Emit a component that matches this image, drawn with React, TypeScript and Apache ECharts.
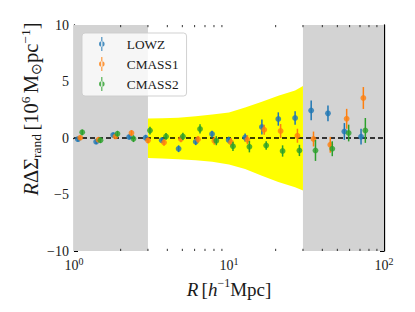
import React, { useEffect, useRef } from "react";
import * as echarts from "echarts";

// Radial bins (h^-1 Mpc)
const R = [1.06, 1.39, 1.79, 2.27, 2.9, 3.68, 4.73, 6.1, 7.77, 9.95, 12.7, 16.3, 20.8, 26.7, 33.9, 43.5, 55.5, 71.1];
const lowz = [-0.1, -0.33, 0.27, 0.09, 0.03, -0.2, -0.95, -0.33, 0.35, -0.18, 0.05, 0.97, 1.68, 1.77, 2.44, 2.18, 0.58, 0.12];
const lowzErr = [0.2, 0.2, 0.2, 0.2, 0.25, 0.25, 0.3, 0.3, 0.3, 0.3, 0.35, 0.66, 0.59, 0.59, 0.88, 0.7, 0.74, 0.7];
const cmass1 = [0.03, -0.15, 0.14, 0.44, -0.21, -0.39, -0.08, -0.12, -0.24, -0.37, -0.15, 0.73, 0.62, 0.2, -0.09, -0.6, 1.7, 3.54];
const cmass1Err = [0.2, 0.2, 0.2, 0.25, 0.25, 0.3, 0.3, 0.3, 0.35, 0.37, 0.4, 0.44, 0.62, 0.62, 0.66, 0.7, 0.88, 0.97];
const cmass2 = [0.5, -0.2, 0.38, -0.06, 0.66, 0.14, 0.14, 0.8, -0.24, -0.74, -0.77, -0.66, -1.15, -1.1, -1.1, -0.95, 0.44, 0.67];
const cmass2Err = [0.25, 0.25, 0.25, 0.3, 0.34, 0.3, 0.32, 0.41, 0.4, 0.4, 0.5, 0.37, 0.5, 0.5, 0.93, 0.66, 0.74, 1.1];

// Yellow uncertainty band
const bandR = [3, 3.7, 4.7, 6.1, 7.8, 10, 12.7, 16.3, 20.8, 26.7, 30];
const bandUpper = [1.72, 1.75, 1.8, 1.92, 2.08, 2.25, 2.7, 3.2, 3.75, 4.2, 4.6];
const bandLower = [-1.77, -1.82, -1.87, -1.97, -2.1, -2.35, -2.75, -3.35, -3.9, -4.35, -4.65];

// Excluded (gray) ranges
const excluded = [[1, 3], [30, 100]];

// Axis ticks
const yTicks = [-10, -5, 0, 5, 10];
const xMinorTicks = [2, 3, 4, 5, 6, 7, 8, 9, 20, 30, 40, 50, 60, 70, 80, 90];

const SERIES = [
  { name: "LOWZ", y: lowz, e: lowzErr, color: "#1f77b4", shift: 1.0 },
  { name: "CMASS1", y: cmass1, e: cmass1Err, color: "#ff7f0e", shift: 1.035 },
  { name: "CMASS2", y: cmass2, e: cmass2Err, color: "#2ca02c", shift: 1.066 },
];

const FONT = "'Liberation Serif', 'Times New Roman', serif";

export default function App() {
  const ref = useRef<HTMLDivElement>(null);
  useEffect(() => {
    if (!ref.current) return;
    const chart = echarts.init(ref.current, null, { renderer: "svg" });

    const series: any[] = [];

    series.push({
      type: "custom",
      name: "band",
      z: 2,
      silent: true,
      data: [[3, 0]],
      encode: { x: 0, y: 1 },
      renderItem: (params: any, api: any) => {
        const pts: number[][] = [];
        for (let i = 0; i < bandR.length; i++) pts.push(api.coord([bandR[i], bandUpper[i]]));
        for (let i = bandR.length - 1; i >= 0; i--) pts.push(api.coord([bandR[i], bandLower[i]]));
        return { type: "polygon", shape: { points: pts }, style: { fill: "#ffff00" } };
      },
    });

    series.push({
      type: "line",
      name: "zero",
      z: 3,
      silent: true,
      symbol: "none",
      data: [[1, 0], [100, 0]],
      lineStyle: { color: "#000", width: 1.6, type: [5, 3] },
      markArea: {
        silent: true,
        itemStyle: { color: "#d3d3d3", opacity: 1 },
        data: excluded.map((r) => [{ xAxis: r[0] }, { xAxis: r[1] }]),
      },
    });

    series.push({
      type: "custom",
      name: "minorticks",
      z: 10,
      silent: true,
      data: xMinorTicks.map((v) => [v, 0]),
      encode: { x: 0, y: 1 },
      renderItem: (params: any, api: any) => {
        const v = api.value(0);
        const b = api.coord([v, -10]);
        const t = api.coord([v, 10]);
        return {
          type: "group",
          children: [
            { type: "line", shape: { x1: b[0], y1: b[1], x2: b[0], y2: b[1] - 2.2 }, style: { stroke: "#000", lineWidth: 0.8 } },
            { type: "line", shape: { x1: t[0], y1: t[1], x2: t[0], y2: t[1] + 2.2 }, style: { stroke: "#000", lineWidth: 0.8 } },
          ],
        };
      },
    });

    SERIES.forEach((s, si) => {
      series.push({
        type: "custom",
        name: s.name + "-err",
        z: 5 + si * 2,
        silent: true,
        data: R.map((r, i) => [r * s.shift, s.y[i], s.e[i]]),
        encode: { x: 0, y: 1 },
        renderItem: (params: any, api: any) => {
          const x = api.value(0);
          const y = api.value(1);
          const e = api.value(2);
          const p1 = api.coord([x, y - e]);
          const p2 = api.coord([x, y + e]);
          return { type: "line", shape: { x1: p1[0], y1: p1[1], x2: p2[0], y2: p2[1] }, style: { stroke: s.color, lineWidth: 1.5 } };
        },
      });
      series.push({
        type: "scatter",
        name: s.name,
        z: 6 + si * 2,
        symbol: "circle",
        symbolSize: 5.8,
        itemStyle: { color: s.color },
        data: R.map((r, i) => [r * s.shift, s.y[i]]),
      });
    });

    const axisLine = { show: true, lineStyle: { color: "#000", width: 1.3 } };
    const txt = "#1a1a1a";

    chart.setOption({
      animation: false,
      grid: { left: 74, right: 31, top: 25, bottom: 61, containLabel: false },
      legend: {
        orient: "vertical",
        left: 82,
        top: 33,
        data: SERIES.map((s) => s.name),
        icon: "path://M4.4,0H5.6V14H4.4Z M2.2,7A2.8,2.8 0 1,0 7.8,7A2.8,2.8 0 1,0 2.2,7Z",
        itemWidth: 6,
        itemHeight: 14,
        itemGap: 6,
        padding: [4, 8, 5, 17],
        backgroundColor: "rgba(255,255,255,0.8)",
        borderColor: "rgba(204,204,204,0.9)",
        borderWidth: 1,
        borderRadius: 3,
        formatter: (n: string) => `{t|${n}}`,
        textStyle: {
          fontFamily: FONT,
          fontSize: 13.3,
          color: txt,
          rich: { t: { fontFamily: FONT, fontSize: 13.3, fontWeight: "normal", color: txt, padding: [0, 0, 0, 17] } },
        },
      },
      xAxis: [
        {
          type: "log",
          logBase: 10,
          min: 1,
          max: 100,
          position: "bottom",
          axisLine,
          axisTick: { show: true, inside: true, length: 4, lineStyle: { color: "#000", width: 1 } },
          splitLine: { show: false },
          axisLabel: {
            margin: 5,
            formatter: (v: number) => `{b|10}{s|${Math.round(Math.log10(v))}}`,
            rich: {
              b: { fontFamily: FONT, fontSize: 14, color: txt, lineHeight: 19 },
              s: { fontFamily: FONT, fontSize: 10, color: txt, verticalAlign: "top", lineHeight: 10 },
            },
          },
          name: "{i|R} {n|[}{i|h}{s|−1}{n|Mpc]}",
          nameLocation: "middle",
          nameGap: 21,
          nameTextStyle: {
            rich: {
              i: { fontFamily: FONT, fontStyle: "italic", fontSize: 19, color: txt, lineHeight: 24 },
              n: { fontFamily: FONT, fontSize: 19, color: txt, lineHeight: 24 },
              s: { fontFamily: FONT, fontSize: 12, color: txt, verticalAlign: "top", lineHeight: 13 },
            },
          },
        },
        {
          type: "log",
          logBase: 10,
          min: 1,
          max: 100,
          position: "top",
          axisLine,
          axisTick: { show: true, inside: true, length: 4, lineStyle: { color: "#000", width: 1 } },
          axisLabel: { show: false },
          splitLine: { show: false },
        },
      ],
      yAxis: [
        {
          type: "value",
          min: -10,
          max: 10,
          interval: 5,
          position: "left",
          axisLine,
          axisTick: { show: true, inside: true, length: 4, lineStyle: { color: "#000", width: 1 } },
          minorTick: { show: true, splitNumber: 5, length: 2.2, lineStyle: { color: "#000", width: 0.8 } },
          splitLine: { show: false },
          axisLabel: {
            margin: 5,
            formatter: (v: number) => (yTicks.includes(v) ? `{t|${String(v).replace("-", "−")}}` : ""),
            rich: { t: { fontFamily: FONT, fontSize: 14, color: txt } },
          },
        },
        {
          type: "value",
          min: -10,
          max: 10,
          interval: 5,
          position: "right",
          axisLine,
          axisTick: { show: true, inside: true, length: 4, lineStyle: { color: "#000", width: 1 } },
          minorTick: { show: true, splitNumber: 5, length: 2.2, lineStyle: { color: "#000", width: 0.8 } },
          splitLine: { show: false },
          axisLabel: { show: false },
        },
      ],
      graphic: [
        {
          type: "text",
          x: 31,
          y: 109,
          rotation: Math.PI / 2,
          style: {
            text: "{i|R}{n|ΔΣ}{sb|rand} {n|[10}{sp|6} {n|M}{sb|⊙}{n|pc}{sp|−1}{n|]}",
            align: "center",
            verticalAlign: "middle",
            rich: {
              i: { fontFamily: FONT, fontStyle: "italic", fontSize: 20.5, fill: txt, lineHeight: 25 },
              n: { fontFamily: FONT, fontSize: 20.5, fill: txt, lineHeight: 25 },
              sb: { fontFamily: FONT, fontSize: 13.5, fill: txt, verticalAlign: "bottom", lineHeight: 16 },
              sp: { fontFamily: FONT, fontSize: 13.5, fill: txt, verticalAlign: "top", lineHeight: 14 },
            },
          },
        },
      ],
      series,
    });
    return () => chart.dispose();
  }, []);
  return <div ref={ref} style={{ position: "absolute", left: 0, top: 0, width: 415, height: 312 }} />;
}
